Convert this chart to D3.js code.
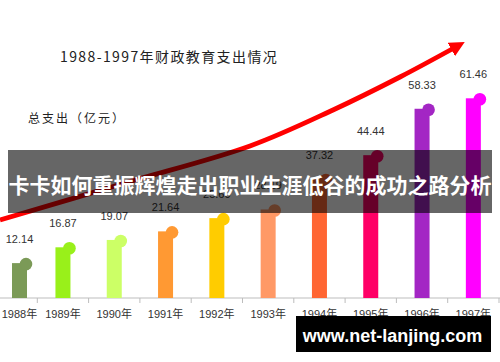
<!DOCTYPE html>
<html>
<head>
<meta charset="utf-8">
<script src="https://cdn.jsdelivr.net/npm/d3@7"></script>
<style>
  body { margin: 0; background: #fff; }
  svg { display: block; }
</style>
</head>
<body>
<svg width="500" height="362"></svg>
<script>
const years = ["1988", "1989", "1990", "1991", "1992", "1993", "1994", "1995", "1996", "1997"];
const spending = [12.14, 16.87, 19.07, 21.64, 25.6, 28.19, 37.32, 44.44, 58.33, 61.46];
const barColors = ["#7b9a57", "#99f01a", "#ccff66", "#ff9933", "#ffcc00", "#ff9966", "#ff6633", "#ff0066", "#a326c4", "#ff00ff"];
const title = "1988-1997年财政教育支出情况";
const unitLabel = "总支出（亿元）";
const bannerText = "卡卡如何重振辉煌走出职业生涯低谷的成功之路分析";
const watermark = "www.net-lanjing.com";

const svg = d3.select("svg");
const width = 500;
const baseline = 298;
const barW = 15;

const data = years.map((y, i) => ({ year: y, value: spending[i], color: barColors[i] }));

const x = d3.scaleBand()
  .domain(years)
  .range([-14, 499]);

// chart is not drawn from zero, the baseline sits a bit above 0
const y = d3.scaleLinear()
  .domain([1.7, 61.46])
  .range([baseline, 98.3]);

// keep the first column inside the frame
const cx = d => Math.max(x(d.year) + x.bandwidth() / 2, 19.5);

// title texts
svg.append("text")
  .attr("x", 60)
  .attr("y", 62)
  .attr("font-family", "'Noto Sans CJK SC', sans-serif")
  .attr("font-size", 14)
  .attr("letter-spacing", 1.4)
  .attr("fill", "#222")
  .text(title);

svg.append("text")
  .attr("x", 28)
  .attr("y", 123)
  .attr("font-family", "'Noto Sans CJK SC', sans-serif")
  .attr("font-size", 12)
  .attr("letter-spacing", 2)
  .attr("fill", "#222")
  .text(unitLabel);

// red growth arrow
svg.append("defs").append("marker")
  .attr("id", "head")
  .attr("viewBox", "0 0 10 10")
  .attr("refX", 2)
  .attr("refY", 5)
  .attr("markerWidth", 3.2)
  .attr("markerHeight", 3.2)
  .attr("orient", "auto")
  .append("path")
  .attr("d", "M0,0 L10,5 L0,10 Z")
  .attr("fill", "#f00");

const arrowPts = [[0, 220], [125, 183], [250, 146], [333, 110], [400, 77], [454, 48]];
svg.append("path")
  .attr("d", d3.line().curve(d3.curveCatmullRom)(arrowPts))
  .attr("fill", "none")
  .attr("stroke", "#f00")
  .attr("stroke-width", 4.8)
  .attr("marker-end", "url(#head)");

// axis
svg.append("line")
  .attr("x1", 0).attr("x2", width)
  .attr("y1", baseline).attr("y2", baseline)
  .attr("stroke", "#bdbdbd")
  .attr("stroke-width", 1.2);

const tickXs = years.slice(1).map(y => x(y)).concat([x.range()[1]]);
svg.selectAll("line.tick")
  .data(tickXs)
  .join("line")
  .attr("class", "tick")
  .attr("x1", d => d).attr("x2", d => d)
  .attr("y1", baseline).attr("y2", baseline + 5)
  .attr("stroke", "#bdbdbd");

// bars
const g = svg.selectAll("g.bar")
  .data(data)
  .join("g")
  .attr("class", "bar");

g.append("rect")
  .attr("x", d => cx(d) - barW / 2)
  .attr("y", d => y(d.value))
  .attr("width", barW)
  .attr("height", d => baseline - y(d.value))
  .attr("fill", d => d.color);

g.append("circle")
  .attr("cx", d => cx(d) + barW / 2 - 1)
  .attr("cy", d => y(d.value) + 1)
  .attr("r", 6.3)
  .attr("fill", d => d.color);

g.append("text")
  .attr("x", d => cx(d))
  .attr("y", d => y(d.value) - 20)
  .attr("text-anchor", "middle")
  .attr("font-family", "'Liberation Sans', Arial, sans-serif")
  .attr("font-size", 11)
  .attr("fill", "#333")
  .text(d => d.value.toFixed(2));

g.append("text")
  .attr("x", d => Math.max(cx(d), 17))
  .attr("y", 317.5)
  .attr("text-anchor", "middle")
  .attr("font-family", "'Liberation Sans', 'Noto Sans CJK SC', sans-serif")
  .attr("font-size", 11)
  .attr("fill", "#333")
  .text(d => d.year + "年");

// overlay banner
svg.append("rect")
  .attr("x", 8).attr("y", 150)
  .attr("width", 484).attr("height", 63)
  .attr("fill", "#000")
  .attr("opacity", 0.6);

svg.append("text")
  .attr("x", width / 2)
  .attr("y", 193)
  .attr("text-anchor", "middle")
  .attr("font-family", "'Noto Sans CJK SC', sans-serif")
  .attr("font-weight", "bold")
  .attr("font-size", 21)
  .attr("fill", "#fff")
  .text(bannerText);

// watermark
svg.append("rect")
  .attr("x", 296).attr("y", 316)
  .attr("width", 195).attr("height", 36)
  .attr("fill", "#000");

svg.append("text")
  .attr("x", 392.5)
  .attr("y", 342)
  .attr("text-anchor", "middle")
  .attr("font-family", "'Liberation Sans', Arial, sans-serif")
  .attr("font-weight", "bold")
  .attr("font-size", 18)
  .attr("fill", "#fff")
  .text(watermark);
</script>
</body>
</html>
